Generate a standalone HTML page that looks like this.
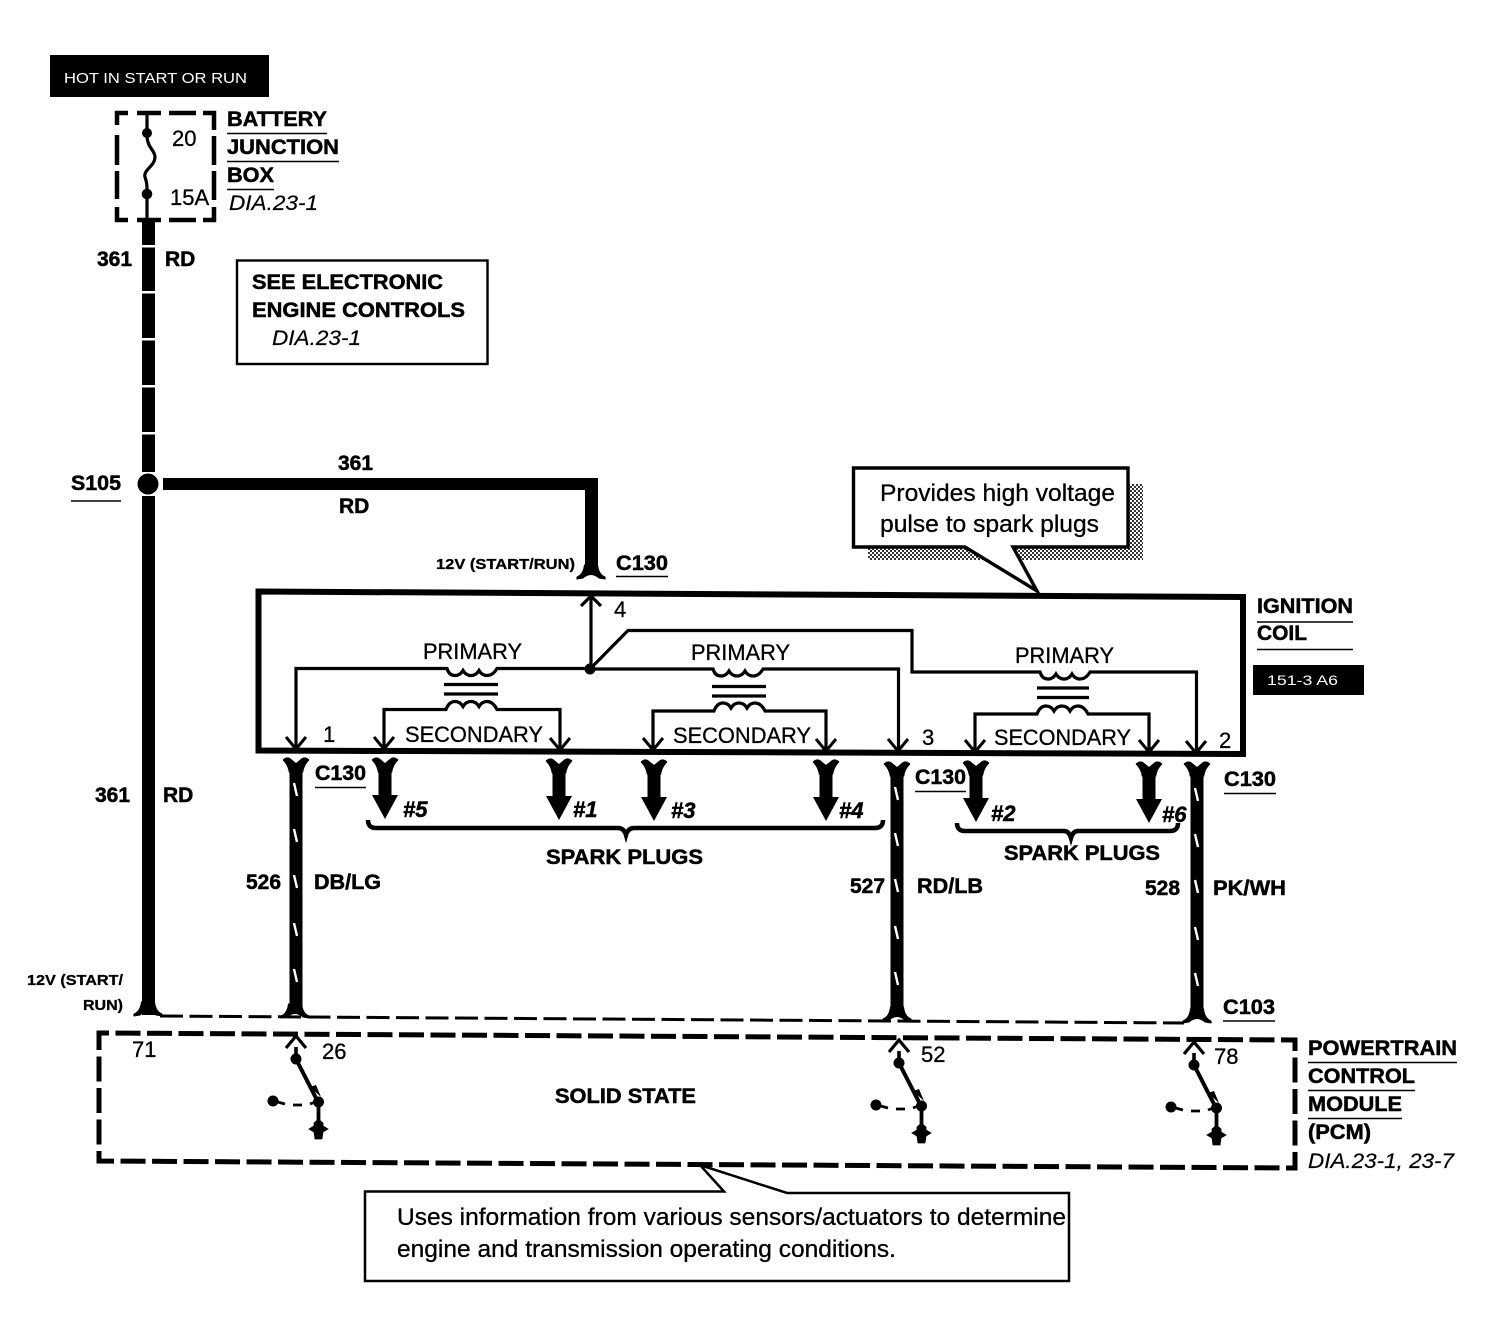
<!DOCTYPE html>
<html><head><meta charset="utf-8"><style>
html,body{margin:0;padding:0;background:#fff}
svg{display:block}
text{font-family:"Liberation Sans",sans-serif;fill:#000;transform:translateY(-1px)}
.b{font-weight:bold;font-size:21px;stroke:#000;stroke-width:.5}
.s{font-weight:bold;font-size:15px;stroke:#000;stroke-width:.3}
.r{font-size:22px;stroke:#000;stroke-width:.3}
.i{font-style:italic;font-size:21px;stroke:#000;stroke-width:.2}
.h{font-weight:bold;font-style:italic;font-size:22px;stroke:#000;stroke-width:.5}
.t{font-size:24px;stroke:#000;stroke-width:.3}
.n{fill:none;stroke:#000}
.u{stroke:#000;stroke-width:1.6}
.sl{stroke:#fff;stroke-width:2.4}
</style></head><body>
<svg width="1496" height="1344" viewBox="0 0 1496 1344" xmlns="http://www.w3.org/2000/svg">
<defs>
<pattern id="dith" width="4" height="4" patternUnits="userSpaceOnUse"><rect width="4" height="4" fill="#fff"/><rect width="2" height="2" fill="#333"/><rect x="2" y="2" width="2" height="2" fill="#333"/></pattern>
<path id="ftop" d="M-12.500,1 Q-9,-2 -6,0 L0,5 L6,0 Q9,-2 12.500,1 Q7.500,6 6.500,13 L-6.500,13 Q-7.500,6 -12.500,1Z" stroke="#000" stroke-width="1.500" stroke-linejoin="round"/>
<path id="fbot" d="M-14,0 Q-15,-2 -12,-3 Q-7.500,-6 -6.500,-14 L6.500,-14 Q7.500,-6 12,-3 Q15,-2 14,0 L8,-1 Q0,-8 -8,-1Z" stroke="#000" stroke-width="1"/>
<path id="oarr" d="M-10,-12 L0,0 L10,-12 M0,0" fill="none" stroke="#000" stroke-width="3"/>
<g id="plug"><use href="#ftop"/><rect x="-6.500" y="10" width="13" height="27"/><path d="M-13,36 L13,36 L0,60Z"/></g>
<g id="sw">
<path d="M0,0 V-12" stroke="#000" stroke-width="3.600"/>
<path d="M-10,-11 L0,-23 L10,-11" fill="none" stroke="#000" stroke-width="3.200"/>
<circle cx="0" cy="0" r="5.500"/>
<path d="M0,0 L22,43" stroke="#000" stroke-width="4"/>
<path d="M14,28 L20,26 L25,38Z"/>
<circle cx="22.500" cy="43" r="5.500"/>
<path d="M22.500,43 V62" stroke="#000" stroke-width="3.800"/>
<path d="M22.500,60 L27,64 L27,67 L32,70 L27,73 L26,80 L19,80 L18,73 L13,70 L18,67 L18,64Z" stroke="#000" stroke-width=".8"/>
<circle cx="-23" cy="42" r="5.500"/>
<path d="M-22,42 L-11,45 M-3,46 H6 M14,45 L19,43" stroke="#000" stroke-width="2.800" fill="none"/>
</g>
</defs>

<!-- tag top -->
<rect x="50" y="55" width="219" height="42"/>
<text x="64" y="84" font-size="15" textLength="183" lengthAdjust="spacingAndGlyphs" style="fill:#fff">HOT IN START OR RUN</text>

<!-- Battery junction box -->
<path d="M117,125 V113 H128 M137,113 H161 M169,113 H196 M203,113 H214 V130 M214,136 V165 M214,171 V200 M214,207 V220 H203 M196,220 H169 M161,220 H137 M128,220 H117 V207 M117,199 V171 M117,165 V135" class="n" stroke-width="4.500"/>
<path d="M147,112 V135 C147,148 155,150 155,157 C155,166 143,170 145,177 C147,183 147,186 147,192 V220" class="n" stroke-width="3.200"/>
<circle cx="147" cy="133" r="5"/><circle cx="147" cy="194" r="5.300"/>
<text class="r" x="172" y="147" style="font-size:22px">20</text>
<text class="r" x="170" y="206">15A</text>
<text class="b" x="227" y="127" textLength="100" lengthAdjust="spacingAndGlyphs">BATTERY</text><path class="u" d="M227,133.500H327"/>
<text class="b" x="227" y="155" textLength="112" lengthAdjust="spacingAndGlyphs">JUNCTION</text><path class="u" d="M227,161.500H339"/>
<text class="b" x="227" y="183" textLength="47" lengthAdjust="spacingAndGlyphs">BOX</text><path class="u" d="M227,189.500H274"/>
<text class="i" x="229" y="211" textLength="89" lengthAdjust="spacingAndGlyphs">DIA.23-1</text>

<!-- main wire -->
<rect x="142" y="220" width="13" height="795"/>
<g fill="#fff"><rect x="140" y="245" width="17" height="2.500"/><rect x="140" y="291" width="17" height="2.500"/><rect x="140" y="338" width="17" height="2.500"/><rect x="140" y="385" width="17" height="2.500"/><rect x="140" y="432" width="17" height="2.500"/></g>
<use href="#fbot" x="148" y="1016"/>
<text class="b" x="97" y="267">361</text><text class="b" x="165" y="267">RD</text>
<text class="b" x="95" y="803">361</text><text class="b" x="163" y="803">RD</text>
<text class="s" x="27" y="986" textLength="96" lengthAdjust="spacingAndGlyphs">12V (START/</text>
<text class="s" x="83" y="1011" textLength="40" lengthAdjust="spacingAndGlyphs">RUN)</text>

<!-- see box -->
<rect x="237" y="260.500" width="250.500" height="103.500" fill="#fff" stroke="#000" stroke-width="2.400"/>
<text class="b" x="252" y="290" textLength="191" lengthAdjust="spacingAndGlyphs">SEE ELECTRONIC</text>
<text class="b" x="252" y="318" textLength="213" lengthAdjust="spacingAndGlyphs">ENGINE CONTROLS</text>
<text class="i" x="272" y="346" textLength="89" lengthAdjust="spacingAndGlyphs">DIA.23-1</text>

<!-- S105 -->
<rect x="140" y="472" width="18" height="24" fill="#fff"/>
<circle cx="148" cy="484" r="10.500"/>
<path d="M163,478 H598 V568 H585 V490 H163Z"/>
<use href="#fbot" x="591" y="579"/>
<text class="b" x="71" y="491" textLength="50" lengthAdjust="spacingAndGlyphs">S105</text><path class="u" d="M71,501H121"/>
<text class="b" x="338" y="471">361</text>
<text class="b" x="339" y="514">RD</text>
<text class="s" x="436" y="570" textLength="139" lengthAdjust="spacingAndGlyphs">12V (START/RUN)</text>
<text class="b" x="616" y="571" textLength="52" lengthAdjust="spacingAndGlyphs">C130</text><path class="u" d="M616,576.500H668"/>

<!-- callout top -->
<rect x="868" y="484" width="275" height="76" fill="url(#dith)"/>
<path d="M853.500,468 H1128 V547 H1013 L1037,591 L965,547 H853.500Z" fill="#fff" stroke="#000" stroke-width="3.400" stroke-linejoin="miter"/>
<text class="t" x="880" y="502" textLength="235" lengthAdjust="spacingAndGlyphs">Provides high voltage</text>
<text class="t" x="880" y="533" textLength="219" lengthAdjust="spacingAndGlyphs">pulse to spark plugs</text>

<!-- coil box -->
<path d="M258.500,591.500 L1243,597 V754 L258.500,750.500Z" class="n" stroke-width="6"/>
<text class="b" x="1257" y="614" textLength="96" lengthAdjust="spacingAndGlyphs">IGNITION</text><path class="u" d="M1257,622H1353"/>
<text class="b" x="1257" y="641" textLength="50" lengthAdjust="spacingAndGlyphs">COIL</text><path class="u" d="M1257,649.500H1353"/>
<rect x="1253" y="665" width="111" height="30"/>
<text x="1267" y="686" font-size="14" textLength="71" lengthAdjust="spacingAndGlyphs" style="fill:#fff">151-3 A6</text>

<!-- internal wiring -->
<g class="n" stroke-width="3.200">
<path d="M296,750 V668.500 H447 q2,7 8,7 q5,0 8,-5 q3,5 8,5 q5,0 8,-5 q3,5 8,5 q6,0 10,-7 H590"/>
<path d="M591,669 V597"/>
<path d="M590,669 L628,630.500 H912 V672 H1040 q2,7 8,7 q5,0 8,-5 q3,5 8,5 q5,0 8,-5 q3,5 8,5 q6,0 10,-7 H1196.500 V752"/>
<path d="M590,669 H713 q2,7 8,7 q5,0 8,-5 q3,5 8,5 q5,0 8,-5 q3,5 8,5 q6,0 10,-7 H898.500 V750"/>
<path d="M384,749 V709.500 H446 q3,-8 9,-8 q5,0 8,5 q3,-5 8,-5 q5,0 8,5 q3,-5 8,-5 q6,0 10,8 H560 V750"/>
<path d="M653,749 V711 H714 q3,-8 9,-8 q5,0 8,5 q3,-5 8,-5 q5,0 8,5 q3,-5 8,-5 q6,0 10,8 H826 V751"/>
<path d="M975,751 V714 H1037 q3,-8 9,-8 q5,0 8,5 q3,-5 8,-5 q5,0 8,5 q3,-5 8,-5 q6,0 10,8 H1149 V753"/>
<path d="M444,684.500H498 M444,694H498 M712,686.500H766 M712,696H766 M1037,688H1089 M1037,697.500H1089"/>
<path d="M581,606 L591,596 L601,606"/>
</g>
<circle cx="590" cy="669" r="5.500"/>
<use href="#oarr" x="296" y="749"/><use href="#oarr" x="384" y="749"/><use href="#oarr" x="560" y="750"/>
<use href="#oarr" x="653" y="750"/><use href="#oarr" x="826" y="751"/><use href="#oarr" x="898" y="751"/>
<use href="#oarr" x="975" y="752"/><use href="#oarr" x="1149" y="752"/><use href="#oarr" x="1196" y="753"/>
<text class="r" x="423" y="660" textLength="99" lengthAdjust="spacingAndGlyphs">PRIMARY</text>
<text class="r" x="691" y="661" textLength="99" lengthAdjust="spacingAndGlyphs">PRIMARY</text>
<text class="r" x="1015" y="664" textLength="99" lengthAdjust="spacingAndGlyphs">PRIMARY</text>
<text class="r" x="405" y="743" textLength="138" lengthAdjust="spacingAndGlyphs">SECONDARY</text>
<text class="r" x="673" y="744" textLength="138" lengthAdjust="spacingAndGlyphs">SECONDARY</text>
<text class="r" x="994" y="746" textLength="137" lengthAdjust="spacingAndGlyphs">SECONDARY</text>
<text class="r" x="614" y="618">4</text><text class="r" x="323" y="743">1</text><text class="r" x="922" y="746">3</text><text class="r" x="1219" y="749">2</text>

<!-- pigtail wires -->
<use href="#ftop" x="296" y="759"/><rect x="289.500" y="768" width="13" height="240"/><use href="#fbot" x="295" y="1018"/>
<use href="#ftop" x="897" y="763"/><rect x="890.500" y="772" width="13" height="240"/><use href="#fbot" x="897" y="1021"/>
<use href="#ftop" x="1197" y="763"/><rect x="1190.500" y="772" width="13" height="242"/><use href="#fbot" x="1197" y="1023"/>
<g class="sl">
<path d="M294,783L297,796M294,829L297,842M294,875L297,888M294,923L297,936M294,969L297,982"/>
<path d="M895,787L898,800M895,833L898,846M895,879L898,892M895,926L898,939M895,972L898,985"/>
<path d="M1195,788L1198,801M1195,834L1198,847M1195,880L1198,893M1195,927L1198,940M1195,973L1198,986"/>
</g>
<text class="b" x="315" y="781" textLength="51" lengthAdjust="spacingAndGlyphs">C130</text><path class="u" d="M315,787.500H366"/>
<text class="b" x="915" y="785" textLength="51" lengthAdjust="spacingAndGlyphs">C130</text><path class="u" d="M915,791.500H966"/>
<text class="b" x="1224" y="787" textLength="52" lengthAdjust="spacingAndGlyphs">C130</text><path class="u" d="M1224,793.500H1276"/>
<text class="b" x="246" y="890">526</text><text class="b" x="314" y="890" textLength="67" lengthAdjust="spacingAndGlyphs">DB/LG</text>
<text class="b" x="850" y="894">527</text><text class="b" x="917" y="894" textLength="66" lengthAdjust="spacingAndGlyphs">RD/LB</text>
<text class="b" x="1145" y="896">528</text><text class="b" x="1213" y="896" textLength="73" lengthAdjust="spacingAndGlyphs">PK/WH</text>

<!-- plugs -->
<use href="#plug" x="385" y="759"/><use href="#plug" x="559" y="760"/><use href="#plug" x="654" y="761"/><use href="#plug" x="826" y="761"/>
<use href="#plug" x="976" y="762"/><use href="#plug" x="1149" y="763"/>
<text class="h" x="403" y="818">#5</text><text class="h" x="573" y="818">#1</text><text class="h" x="671" y="819">#3</text><text class="h" x="839" y="819">#4</text>
<text class="h" x="991" y="822">#2</text><text class="h" x="1162" y="823">#6</text>
<path d="M368,820 Q368,828 376,828 H618 Q624,828 626,835 Q628,828 634,828 H875 Q883,828 883,820" class="n" stroke-width="4.500"/>
<path d="M957,823 Q957,831 965,831 H1064 Q1069,831 1071,838 Q1073,831 1078,831 H1170 Q1178,831 1178,823" class="n" stroke-width="4.500"/>
<text class="b" x="546" y="865" textLength="157" lengthAdjust="spacingAndGlyphs">SPARK PLUGS</text>
<text class="b" x="1004" y="861" textLength="156" lengthAdjust="spacingAndGlyphs">SPARK PLUGS</text>

<!-- C103 dashed -->
<path d="M160,1016 L1184,1023" class="n" stroke-width="3" stroke-dasharray="23,6.500"/>
<text class="b" x="1223" y="1015" textLength="52" lengthAdjust="spacingAndGlyphs">C103</text><path class="u" d="M1223,1021H1275"/>

<!-- PCM box -->
<path d="M99,1048 V1033 L1295,1040 V1168 L99,1161 V1048" class="n" stroke-width="5" stroke-dasharray="25,6.500"/>
<use href="#sw" x="296" y="1059"/><use href="#sw" x="899" y="1063"/><use href="#sw" x="1194" y="1065"/>
<text class="r" x="132" y="1058">71</text><text class="r" x="322" y="1060">26</text><text class="r" x="921" y="1063">52</text><text class="r" x="1214" y="1065">78</text>
<text class="b" x="555" y="1104" textLength="141" lengthAdjust="spacingAndGlyphs">SOLID STATE</text>
<text class="b" x="1308" y="1056" textLength="149" lengthAdjust="spacingAndGlyphs">POWERTRAIN</text><path class="u" d="M1308,1062.500H1457"/>
<text class="b" x="1308" y="1084" textLength="107" lengthAdjust="spacingAndGlyphs">CONTROL</text><path class="u" d="M1308,1090.500H1415"/>
<text class="b" x="1308" y="1112" textLength="94" lengthAdjust="spacingAndGlyphs">MODULE</text><path class="u" d="M1308,1118.500H1402"/>
<text class="b" x="1308" y="1140" textLength="63" lengthAdjust="spacingAndGlyphs">(PCM)</text>
<text class="i" x="1308" y="1169" textLength="146" lengthAdjust="spacingAndGlyphs">DIA.23-1, 23-7</text>

<!-- bottom callout -->
<path d="M365,1191.500 H724 L700,1165 L787,1193 H1069 V1281 H365Z" fill="#fff" stroke="#000" stroke-width="2.500"/>
<text class="t" x="397" y="1226" textLength="669" lengthAdjust="spacingAndGlyphs">Uses information from various sensors/actuators to determine</text>
<text class="t" x="397" y="1258" textLength="499" lengthAdjust="spacingAndGlyphs">engine and transmission operating conditions.</text>
</svg>
</body></html>
